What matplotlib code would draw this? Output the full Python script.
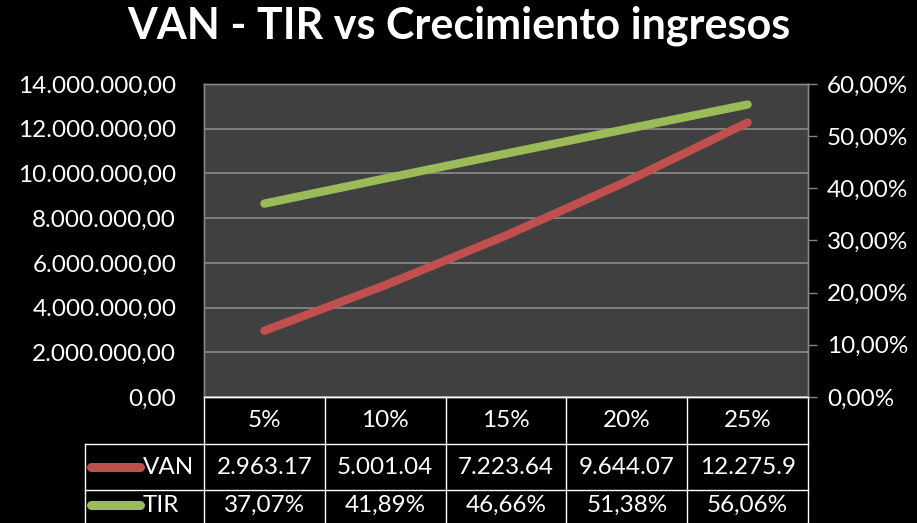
import matplotlib.pyplot as plt
from matplotlib.ticker import FuncFormatter
from matplotlib.lines import Line2D

# data
categories = ['5%', '10%', '15%', '20%', '25%']
van = [2963170, 5001040, 7223640, 9644070, 12275900]
tir = [0.3707, 0.4189, 0.4666, 0.5138, 0.5606]
van_text = ['2.963.17', '5.001.04', '7.223.64', '9.644.07', '12.275.9']
tir_text = ['37,07%', '41,89%', '46,66%', '51,38%', '56,06%']

red = '#C0504D'
green = '#9BBB59'
font = 'Lato'
fs = 17.5

W, H = 917, 523
fig = plt.figure(figsize=(W / 100, H / 100), dpi=100, facecolor='black')
# plot area in pixels: x 204-808, y 84-397
x0, x1, y0, y1 = 204, 808, 84, 397
ax = fig.add_axes([x0 / W, 1 - y1 / H, (x1 - x0) / W, (y1 - y0) / H])
ax.set_facecolor('#404040')

x = range(len(categories))
ax.plot(x, van, color=red, lw=6, solid_capstyle='round', zorder=3)
ax.set_xlim(-0.5, len(categories) - 0.5)
ax.set_ylim(0, 14000000)
ax.set_yticks(range(0, 14000001, 2000000))
ax.grid(axis='y', color='#858585', lw=1.3)
ax.set_axisbelow(True)
ax.set_xticks([])


def es_num(v, p):
    s = f'{v:,.2f}'
    return s.replace(',', 'X').replace('.', ',').replace('X', '.')


ax.yaxis.set_major_formatter(FuncFormatter(es_num))
ax.tick_params(axis='y', length=0, pad=20, labelcolor='white', labelsize=fs)
for lab in ax.get_yticklabels():
    lab.set_family(font)

ax2 = ax.twinx()
ax2.plot(x, tir, color=green, lw=6, solid_capstyle='round', zorder=3)
ax2.set_ylim(0, 0.6)
ax2.set_yticks([i / 10 for i in range(7)])
ax2.yaxis.set_major_formatter(FuncFormatter(lambda v, p: f'{v * 100:.2f}%'.replace('.', ',')))
ax2.tick_params(axis='y', length=6.5, width=1, color='#858585', pad=7,
                labelcolor='white', labelsize=fs)
for lab in ax2.get_yticklabels():
    lab.set_family(font)

for a in (ax, ax2):
    for side in ('left', 'top', 'right'):
        a.spines[side].set_color('#858585')
        a.spines[side].set_linewidth(1)
    a.spines['bottom'].set_color('white')
    a.spines['bottom'].set_linewidth(1)

# data table drawn below the axes
n = len(categories)
px_h = y1 - y0
px_w = x1 - x0
row_edges = [0, -(444 - y1) / px_h, -(490 - y1) / px_h, -(536 - y1) / px_h]
lab_left = (85 - x0) / px_w
kw = dict(color='white', lw=1, transform=ax.transAxes, clip_on=False)
for i in range(n + 1):
    ax.add_line(Line2D([i / n, i / n], [row_edges[0], row_edges[-1]], **kw))
for r in row_edges[1:3]:
    ax.add_line(Line2D([lab_left, 1], [r, r], **kw))
ax.add_line(Line2D([lab_left, lab_left], [row_edges[1], row_edges[-1]], **kw))

tkw = dict(color='white', fontsize=fs, family=font, transform=ax.transAxes,
           ha='center', va='center', clip_on=False)
for i, c in enumerate(categories):
    xc = (i + 0.5) / n
    ax.text(xc, (row_edges[0] + row_edges[1]) / 2, c, **tkw)
    ax.text(xc, (row_edges[1] + row_edges[2]) / 2, van_text[i], **tkw)
    ax.text(xc, (row_edges[2] + row_edges[3]) / 2 + 0.025, tir_text[i], **tkw)

for k, (name, col) in enumerate([('VAN', red), ('TIR', green)]):
    yc = (row_edges[k + 1] + row_edges[k + 2]) / 2 + (0.025 if k else 0)
    ax.add_line(Line2D([(91 - x0) / px_w, (140 - x0) / px_w], [yc, yc], color=col,
                       lw=6.5, solid_capstyle='round', transform=ax.transAxes,
                       clip_on=False))
    ax.text((143 - x0) / px_w, yc, name, color='white',
            fontsize=fs, family=font, transform=ax.transAxes, ha='left',
            va='center', clip_on=False)

fig.text(0.5, 1 - 38 / H, 'VAN - TIR vs Crecimiento ingresos', color='white',
         fontsize=31, fontweight='bold', family=font, ha='center', va='baseline')

fig.savefig('out.png', dpi=100, facecolor='black')
